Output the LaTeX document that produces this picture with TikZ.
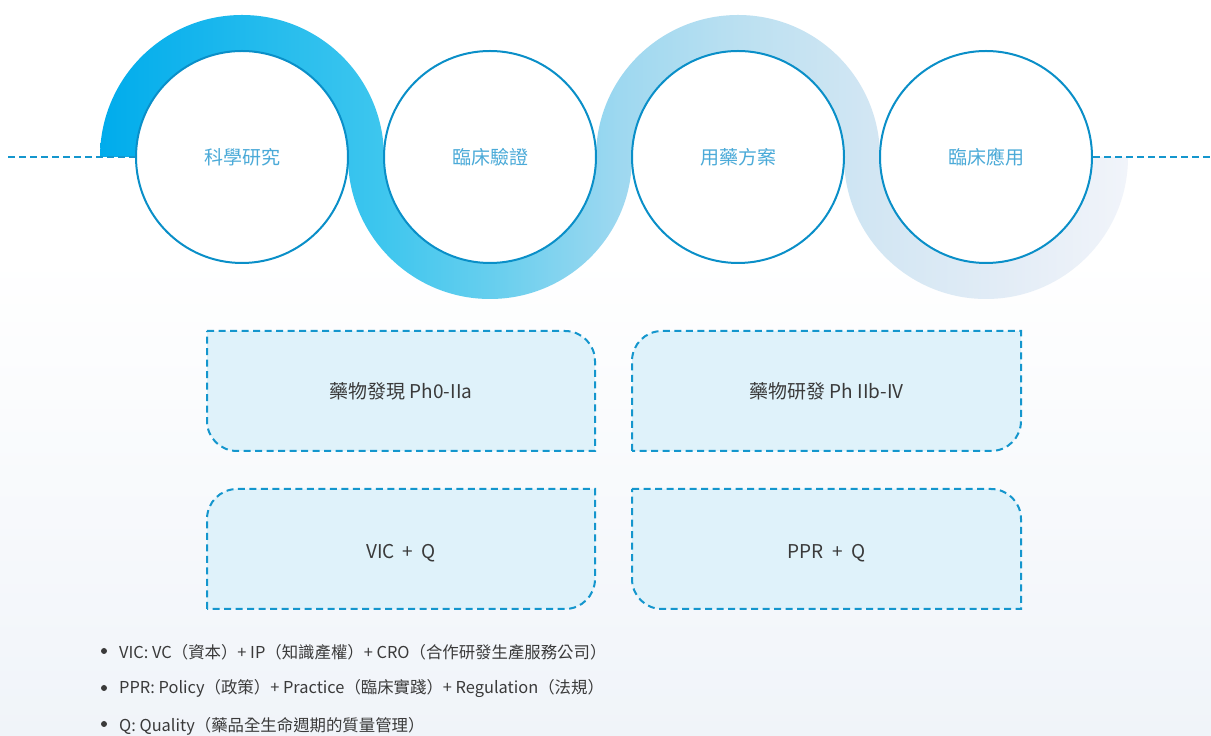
\documentclass[tikz,border=0pt]{standalone}
\usepackage{fontspec}
\setmainfont{Noto Sans CJK TC}
\usetikzlibrary{calc}
\definecolor{b0}{HTML}{00ACEC}
\definecolor{b1}{HTML}{3DC6EE}
\definecolor{b2}{HTML}{6ACFEE}
\definecolor{b3}{HTML}{9ED8F0}
\definecolor{b4}{HTML}{BBE0F1}
\definecolor{b5}{HTML}{D2E6F3}
\definecolor{b6}{HTML}{E2ECF6}
\definecolor{b7}{HTML}{F1F4FA}
\definecolor{circline}{HTML}{0A8FC8}
\definecolor{circtext}{HTML}{4BAAD8}
\definecolor{dashblue}{HTML}{1496CD}
\definecolor{boxfill}{HTML}{DFF2FA}
\definecolor{darktext}{HTML}{3A3A3A}
\definecolor{bgbot}{HTML}{F0F4F9}
\pgfdeclarehorizontalshading{bandshade}{100bp}{color(0bp)=(b0); color(25bp)=(b0); color(38.6bp)=(b1); color(44.5bp)=(b2); color(50.3bp)=(b3); color(56.1bp)=(b4); color(62.5bp)=(b5); color(68.8bp)=(b6); color(75bp)=(b7); color(100bp)=(b7)}
\begin{document}
\begin{tikzpicture}[x=1pt,y=1pt,
  stage/.style={circle, draw=circline, line width=2pt, fill=white, minimum size=212pt, inner sep=0pt, text=circtext, font=\fontsize{19}{22}\selectfont},
  dashline/.style={draw=dashblue, line width=2pt, dash pattern=on 7pt off 4pt},
  boxline/.style={draw=dashblue, line width=2pt, dash pattern=on 7pt off 4.5pt, fill=boxfill},
  boxtext/.style={text=darktext, font=\fontsize{19}{22}\selectfont},
  item/.style={anchor=west, text=darktext, font=\fontsize{16.4}{19}\selectfont, inner sep=0pt},
  dot/.style={circle, fill=darktext, minimum size=6pt, inner sep=0pt}]
\useasboundingbox (0,0) rectangle (1211,736);
\fill[white] (0,479) rectangle (1211,736);
\fill[top color=white, bottom color=bgbot] (0,0) rectangle (1211,480);
% band
\shade[shading=bandshade] (100,579) arc[start angle=180,end angle=0,radius=142]
  arc[start angle=180,end angle=360,radius=106]
  arc[start angle=180,end angle=0,radius=142]
  arc[start angle=180,end angle=360,radius=106]
  -- (1128,579)
  arc[start angle=0,end angle=-180,radius=142]
  arc[start angle=0,end angle=180,radius=106]
  arc[start angle=0,end angle=-180,radius=142]
  arc[start angle=0,end angle=180,radius=106]
  -- cycle;
% circles
\node[stage] (c1) at (242,579) {科學研究};
\node[stage] (c2) at (490,579) {臨床驗證};
\node[stage] (c3) at (738,579) {用藥方案};
\node[stage] (c4) at (986,579) {臨床應用};
\coordinate (L) at (8,579);
\coordinate (R) at (1211,579);
\draw[dashline] (L) -- (c1.west);
\draw[dashline] (c4.east) -- (R);
% boxes
\filldraw[boxline] (207,405) -- (565,405) arc[start angle=90,end angle=0,radius=30] -- (595,285) -- (237,285) arc[start angle=270,end angle=180,radius=30] -- cycle;
\filldraw[boxline] (207,127) -- (207,217) arc[start angle=180,end angle=90,radius=30] -- (595,247) -- (595,157) arc[start angle=0,end angle=-90,radius=30] -- cycle;
\filldraw[boxline] (632,285) -- (632,375) arc[start angle=180,end angle=90,radius=30] -- (1021,405) -- (1021,315) arc[start angle=0,end angle=-90,radius=30] -- cycle;
\filldraw[boxline] (632,247) -- (991,247) arc[start angle=90,end angle=0,radius=30] -- (1021,127) -- (662,127) arc[start angle=270,end angle=180,radius=30] -- cycle;
\node[boxtext] (t1) at (401,345) {藥物發現 Ph0-IIa};
\node[boxtext] (t2) at (401,183) {VIC\hspace{4pt} +\hspace{4pt} Q};
\node[boxtext] (t3) at (826.5,345) {藥物研發 Ph IIb-IV};
\node[boxtext] (t4) at (826.5,183) {PPR\hspace{4pt} +\hspace{4pt} Q};
% legend
\node[dot] (d1) at (104,85) {};
\node[dot] (d2) at (104,48) {};
\node[dot] (d3) at (104,12) {};
\node[item] (l1) at (119,84) {VIC: VC（資本）+ IP（知識產權）+ CRO（合作研發生產服務公司）};
\node[item] (l2) at (119,47) {PPR: Policy（政策）+ Practice（臨床實踐）+ Regulation（法規）};
\node[item] (l3) at (119,10) {Q: Quality（藥品全生命週期的質量管理）};
\end{tikzpicture}
\end{document}
